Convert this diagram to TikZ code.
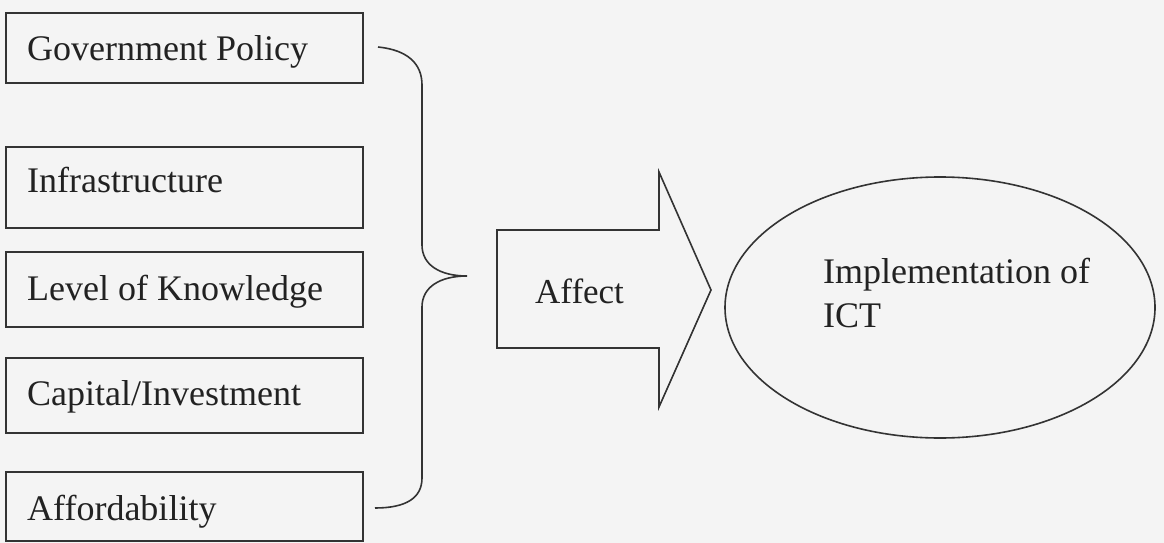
\documentclass[tikz,border=0pt]{standalone}
\usepackage{fontspec}
\setmainfont{Liberation Serif}
\definecolor{bgc}{HTML}{F4F4F4}
\definecolor{ink}{HTML}{333333}
\definecolor{txt}{HTML}{222222}
\begin{document}
\begin{tikzpicture}[x=1pt,y=-1pt,
  box/.style={draw=ink, line width=2pt, rectangle, inner sep=0pt, minimum width=357pt},
  lbl/.style={anchor=base west, inner sep=0pt, text=txt, font=\fontsize{36}{42}\selectfont},
  shapeline/.style={draw=ink, line width=1.6pt, line join=miter}]
\fill[bgc] (0,0) rectangle (1164,543);
\useasboundingbox (0,0) rectangle (1164,543);
% factor boxes
\node[box, minimum height=70pt] (b1) at (184.5,48) {};
\node[box, minimum height=81pt] (b2) at (184.5,187.5) {};
\node[box, minimum height=75pt] (b3) at (184.5,289.5) {};
\node[box, minimum height=75pt] (b4) at (184.5,395.5) {};
\node[box, minimum height=69pt] (b5) at (184.5,506.5) {};
\node[lbl] (t1) at (27,60) {Government Policy};
\node[lbl] (t2) at (27,192) {Infrastructure};
\node[lbl] (t3) at (27,300) {Level of Knowledge};
\node[lbl] (t4) at (27,405) {Capital/Investment};
\node[lbl] (t5) at (27,520) {Affordability};
% brace
\draw[shapeline] (378,47) .. controls (408,50) and (422,64) .. (422,85)
  -- (422,245) .. controls (422,265) and (440,276) .. (467,276)
  .. controls (440,276) and (422,287) .. (422,307)
  -- (422,478) .. controls (422,498) and (406,508) .. (375,508);
% block arrow
\draw[shapeline] (497,230) -- (659,230) -- (659,172) -- (711,290) -- (659,407) -- (659,348) -- (497,348) -- cycle;
\node[lbl, font=\fontsize{35}{40}\selectfont] (affect) at (535,303) {Affect};
% ellipse
\draw[shapeline] (940,307.5) ellipse [x radius=215, y radius=130.5];
\node[lbl] (impl1) at (823,283) {Implementation of};
\node[lbl] (impl2) at (823,327) {ICT};
\end{tikzpicture}
\end{document}
